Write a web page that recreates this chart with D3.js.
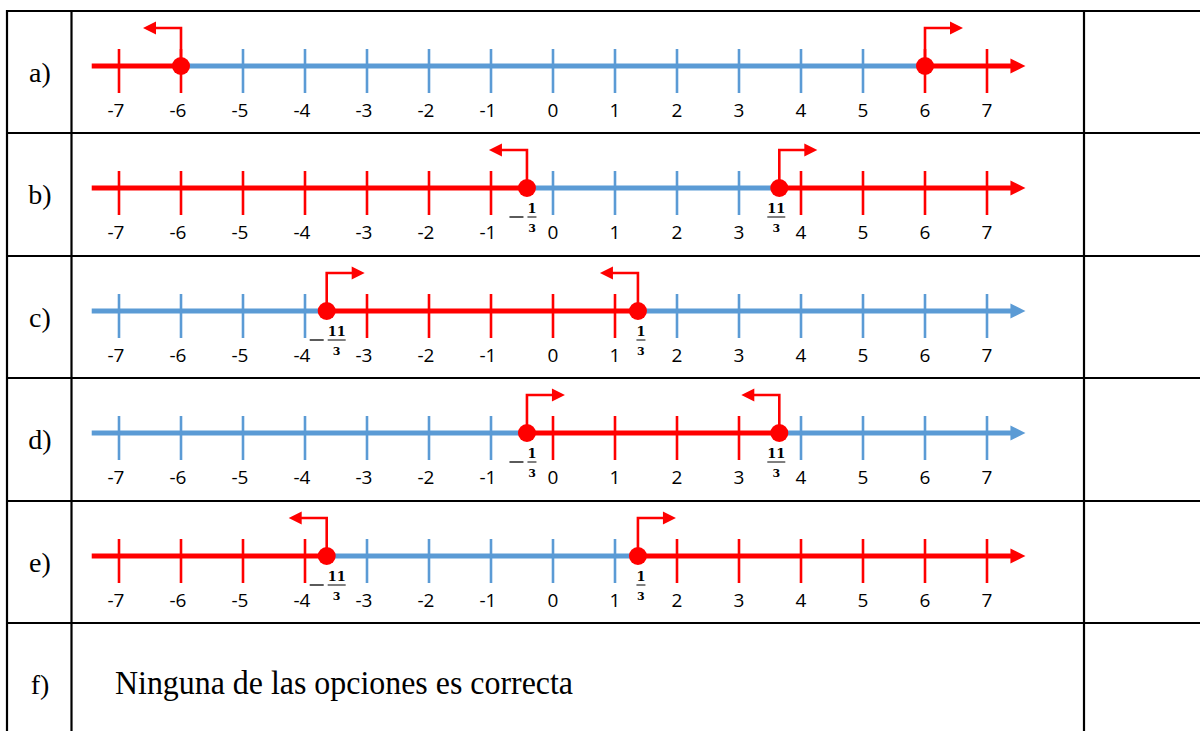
<!DOCTYPE html>
<html>
<head>
<meta charset="utf-8">
<script src="https://cdn.jsdelivr.net/npm/d3@7"></script>
<style>
  body { margin: 0; background: #fff; }
  svg { display: block; }
</style>
</head>
<body>
<div id="chart"></div>
<script>
// options a) to e): two endpoints each, shaded outside or inside
var rowLetters = ["a)", "b)", "c)", "d)", "e)", "f)"];
var ticks = [-7, -6, -5, -4, -3, -2, -1, 0, 1, 2, 3, 4, 5, 6, 7];
var leftPoint  = [-6, -0.42, -3.65, -0.42, -3.65];
var rightPoint = [6, 3.65, 1.37, 3.65, 1.37];
// label shown under each point: [sign, numerator, denominator]
var leftLabel  = [null, ["-", "1", "3"], ["-", "11", "3"], ["-", "1", "3"], ["-", "11", "3"]];
var rightLabel = [null, ["", "11", "3"], ["", "1", "3"], ["", "11", "3"], ["", "1", "3"]];
var shading = ["outside", "outside", "inside", "inside", "outside"];
var lastText = "Ninguna de las opciones es correcta";

var width = 1200, height = 731;
var RED = "#ff0000", BLUE = "#5b9bd5";

var svg = d3.select("#chart").append("svg")
    .attr("width", width)
    .attr("height", height);

// table grid
var rowTops = [11, 133, 256, 378, 501, 623];
var grid = svg.append("g").attr("stroke", "#000").attr("stroke-width", 2.2);
rowTops.forEach(function (y) {
    grid.append("line").attr("x1", 6).attr("x2", 1200).attr("y1", y).attr("y2", y);
});
[7, 71.5, 1084].forEach(function (x) {
    grid.append("line").attr("x1", x).attr("x2", x).attr("y1", 10).attr("y2", height);
});

// row letters
rowLetters.forEach(function (l, i) {
    svg.append("text")
        .attr("x", 40).attr("y", i < 5 ? rowTops[i] + 71 : 694)
        .attr("text-anchor", "middle")
        .style("font-family", "'Liberation Serif', serif")
        .style("font-size", "28px")
        .text(l);
});

var x = d3.scaleLinear().domain([-7, 7]).range([119, 987]);
var xStart = -7.44, xEnd = 7.62;

function inRed(v, i) {
    if (shading[i] === "outside") return v <= leftPoint[i] || v >= rightPoint[i];
    return v >= leftPoint[i] && v <= rightPoint[i];
}

leftPoint.forEach(function (lp, i) {
    var rp = rightPoint[i];
    var cy = rowTops[i] + 55;
    var g = svg.append("g");
    var outside = shading[i] === "outside";

    // main line pieces
    var pieces = [
        [xStart, lp, outside ? RED : BLUE],
        [lp, rp, outside ? BLUE : RED],
        [rp, xEnd - 0.2, outside ? RED : BLUE]
    ];
    pieces.forEach(function (p) {
        g.append("line")
            .attr("x1", x(p[0])).attr("x2", x(p[1]))
            .attr("y1", cy).attr("y2", cy)
            .attr("stroke", p[2]).attr("stroke-width", 5);
    });
    // arrowhead at right end
    var endCol = outside ? RED : BLUE;
    var tip = x(xEnd);
    g.append("path")
        .attr("d", "M" + tip + "," + cy + " L" + (tip - 15) + "," + (cy - 7.5) + " L" + (tip - 15) + "," + (cy + 7.5) + "Z")
        .attr("fill", endCol);

    // ticks and labels
    ticks.forEach(function (t) {
        g.append("line")
            .attr("x1", x(t)).attr("x2", x(t))
            .attr("y1", cy - 17).attr("y2", cy + 27)
            .attr("stroke", inRed(t, i) ? RED : BLUE)
            .attr("stroke-width", 2.6);
        g.append("text")
            .attr("x", x(t) - (t < 0 ? 3 : 0)).attr("y", cy + 51)
            .attr("text-anchor", "middle")
            .style("font-family", "'Open Sans', sans-serif")
            .style("font-size", "19px")
            .attr("fill", "#000")
            .text(t);
    });

    // endpoint dots with bent arrows
    [[lp, outside ? -1 : 1, leftLabel[i]], [rp, outside ? 1 : -1, rightLabel[i]]].forEach(function (d) {
        var px = x(d[0]), dir = d[1];
        var top = cy - 38;
        var headEnd = px + dir * 38;
        g.append("path")
            .attr("d", "M" + px + "," + cy + " V" + top + " H" + (headEnd - dir * 11))
            .attr("fill", "none").attr("stroke", RED).attr("stroke-width", 2.6);
        g.append("path")
            .attr("d", "M" + headEnd + "," + top + " L" + (headEnd - dir * 13) + "," + (top - 6.5) + " L" + (headEnd - dir * 13) + "," + (top + 6.5) + "Z")
            .attr("fill", RED);
        g.append("circle").attr("cx", px).attr("cy", cy).attr("r", 9).attr("fill", RED);

        var lab = d[2];
        if (lab) {
            var neg = lab[0] === "-";
            var fx = px + (neg ? 5 * lab[1].length : (lab[1].length > 1 ? -3 : 3));
            var num = g.append("text").attr("x", fx).attr("y", cy + 25).attr("text-anchor", "middle")
                .style("font-size", "13px").text(lab[1]);
            var den = g.append("text").attr("x", fx).attr("y", cy + 44).attr("text-anchor", "middle")
                .style("font-size", "11px").text(lab[2]);
            [num, den].forEach(function (t) {
                t.style("font-family", "'DejaVu Serif', serif").style("font-weight", "bold");
            });
            var bw = lab[1].length > 1 ? 18 : 9;
            g.append("line")
                .attr("x1", fx - bw / 2).attr("x2", fx + bw / 2)
                .attr("y1", cy + 29).attr("y2", cy + 29)
                .attr("stroke", "#000").attr("stroke-width", 1);
            if (neg) {
                g.append("line")
                    .attr("x1", fx - bw / 2 - 18).attr("x2", fx - bw / 2 - 4)
                    .attr("y1", cy + 29).attr("y2", cy + 29)
                    .attr("stroke", "#000").attr("stroke-width", 1.3);
            }
        }
    });
});

// last option
svg.append("text")
    .attr("x", 115).attr("y", 694)
    .style("font-family", "'Liberation Serif', serif")
    .style("font-size", "33px")
    .attr("textLength", 458)
    .attr("lengthAdjust", "spacingAndGlyphs")
    .text(lastText);
</script>
</body>
</html>
